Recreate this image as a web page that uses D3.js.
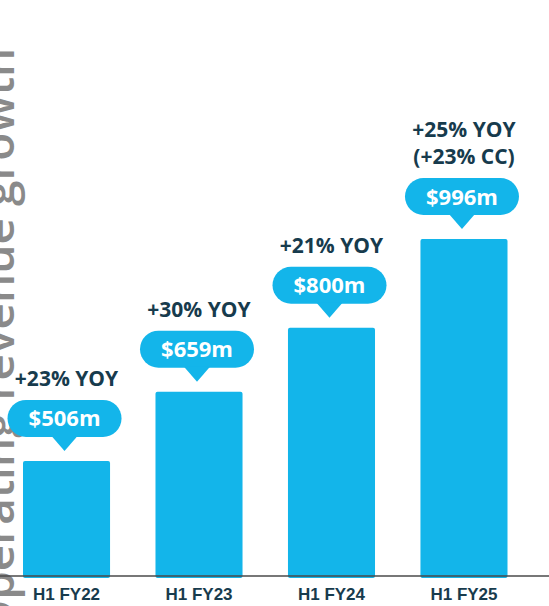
<!DOCTYPE html>
<html>
<head>
<meta charset="utf-8">
<script src="https://cdn.jsdelivr.net/npm/d3@7"></script>
<style>
  body { margin: 0; background: #fff; }
  .svg { width: 549px; height: 606px; overflow: hidden; }
  text { font-family: "Open Sans", sans-serif; font-weight: 700; }
  .x.axis text { font-family: "Liberation Sans", Arial, sans-serif; }
</style>
</head>
<body>
<div class="svg"></div>
<script>
//=============DATA==============//
const periods = ["H1 FY22", "H1 FY23", "H1 FY24", "H1 FY25"];
const revenue = [506, 659, 800, 996];
const valueLabels = ["$506m", "$659m", "$800m", "$996m"];
const growthLabels = [["+23% YOY"], ["+30% YOY"], ["+21% YOY"], ["+25% YOY", "(+23% CC)"]];
const sideText = "Operating revenue growth";

let blue = "#13b5ea";
let navy = "#173b4d";

//=============D3 SETUP==============//
let width = 549, height = 606;
let baseY = 576;

let svg = d3.select(".svg").append("svg")
  .attr("width", width)
  .attr("height", height);

// the baseline is not zero on the original slide
let y = d3.scaleLinear()
  .domain([252, 996])
  .range([baseY, 239]);

let x = d3.scaleBand()
  .domain(periods)
  .range([23, 507.5])
  .paddingInner(0.343)
  .paddingOuter(0);

let dataset = periods.map((p, i) => ({
  label: p, value: revenue[i], tag: valueLabels[i], growth: growthLabels[i]
}));

// cut off title on the left edge
svg.append("text")
  .attr("transform", "translate(14," + (height + 30) + ") rotate(-90)")
  .attr("fill", "#8a8a8a")
  .style("font-size", "46px")
  .style("font-weight", 600)
  .text(sideText);

//=============BARS==============//
svg.selectAll(".bar")
  .data(dataset)
  .enter().append("rect")
  .attr("class", "bar")
  .attr("x", d => x(d.label))
  .attr("y", d => y(d.value))
  .attr("width", x.bandwidth())
  .attr("height", d => baseY - y(d.value) + 2)
  .attr("rx", 2)
  .attr("fill", blue);

//=============AXIS==============//
let xAxis = d3.axisBottom(x).tickSize(0).tickSizeOuter(0);
let axisG = svg.append("g")
  .attr("class", "x axis")
  .attr("transform", "translate(0," + baseY + ")")
  .call(xAxis);
axisG.select(".domain").remove();
axisG.append("line")
  .attr("x1", 0).attr("x2", width)
  .attr("stroke", "#4a4a4a").attr("stroke-width", 1.5);
axisG.selectAll(".tick text")
  .attr("y", 24)
  .attr("dy", null)
  .attr("fill", navy)
  .style("font-size", "17px")
  .style("font-weight", 700);

//=============CALLOUTS==============//
let bubbleW = 114, bubbleH = 37, tipH = 14, tipW = 13;

let callout = svg.selectAll(".callout")
  .data(dataset)
  .enter().append("g")
  .attr("class", "callout")
  .attr("transform", d => "translate(" + (x(d.label) + x.bandwidth() / 2 - 2) + "," + (y(d.value) - 10) + ")");

callout.append("rect")
  .attr("x", -bubbleW / 2)
  .attr("y", -tipH - bubbleH)
  .attr("width", bubbleW)
  .attr("height", bubbleH)
  .attr("rx", bubbleH / 2)
  .attr("fill", blue);

callout.append("path")
  .attr("d", "M" + (-tipW) + "," + (-tipH - 1) + "L0,0L" + tipW + "," + (-tipH - 1) + "Z")
  .attr("fill", blue);

callout.append("text")
  .attr("text-anchor", "middle")
  .attr("y", -tipH - bubbleH / 2 + 8)
  .attr("fill", "#fff")
  .style("font-size", "22px")
  .text(d => d.tag);

callout.each(function(d) {
  let g = d3.select(this);
  let n = d.growth.length;
  d.growth.forEach((line, j) => {
    g.append("text")
      .attr("text-anchor", "middle")
      .attr("x", 2)
      .attr("y", -tipH - bubbleH - 14 - (n - 1 - j) * 27)
      .attr("fill", navy)
      .style("font-size", "21px")
      .text(line);
  });
});
</script>
</body>
</html>
